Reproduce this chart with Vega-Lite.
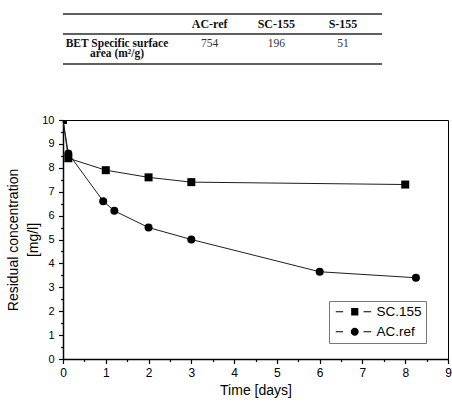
{
  "$schema": "https://vega.github.io/schema/vega-lite/v6.json",
  "padding": {"left": 6, "top": 13, "right": 2, "bottom": 2},
  "background": "white",
  "config": {"font": "Liberation Sans", "view": {"stroke": null}},
  "spacing": 48,
  "datasets": {
    "tableRules": [{"slot": "top"}, {"slot": "mid"}, {"slot": "bottom"}],
    "tableHeader": [
      {"slot": "header", "column": "AC-ref"},
      {"slot": "header", "column": "SC-155"},
      {"slot": "header", "column": "S-155"}
    ],
    "tableLabel": [
      {"slot": "line1", "column": "label", "text": "BET Specific surface"},
      {"slot": "line2", "column": "label", "text": "area (m²/g)"}
    ],
    "tableValues": [
      {"slot": "line1", "column": "AC-ref", "value": 754},
      {"slot": "line1", "column": "SC-155", "value": 196},
      {"slot": "line1", "column": "S-155", "value": 51}
    ],
    "kinetics": [
      {"series": "SC.155", "time": 0, "conc": 10},
      {"series": "SC.155", "time": 0.125, "conc": 8.4},
      {"series": "SC.155", "time": 1, "conc": 7.9},
      {"series": "SC.155", "time": 2, "conc": 7.6},
      {"series": "SC.155", "time": 3, "conc": 7.4},
      {"series": "SC.155", "time": 8, "conc": 7.3},
      {"series": "AC.ref", "time": 0, "conc": 10},
      {"series": "AC.ref", "time": 0.125, "conc": 8.6},
      {"series": "AC.ref", "time": 0.94, "conc": 6.6},
      {"series": "AC.ref", "time": 1.2, "conc": 6.2},
      {"series": "AC.ref", "time": 2, "conc": 5.5},
      {"series": "AC.ref", "time": 3, "conc": 5.0},
      {"series": "AC.ref", "time": 6, "conc": 3.65},
      {"series": "AC.ref", "time": 8.25, "conc": 3.4}
    ]
  },
  "vconcat": [
    {
      "width": 319,
      "height": 50,
      "encoding": {
        "y": {
          "field": "slot",
          "type": "nominal",
          "scale": {"type": "point", "domain": ["top", "header", "mid", "line1", "line2", "bottom"], "padding": 0},
          "axis": null
        }
      },
      "layer": [
        {
          "data": {"name": "tableRules"},
          "mark": {"type": "rule", "color": "#2b2b2b", "strokeWidth": 1.6}
        },
        {
          "data": {"name": "tableHeader"},
          "mark": {"type": "text", "font": "Liberation Serif", "fontSize": 12, "fontWeight": "bold", "color": "#111111", "baseline": "middle"},
          "encoding": {
            "x": {"field": "column", "type": "nominal", "scale": {"type": "point", "domain": ["label", "AC-ref", "SC-155", "S-155"], "range": [80, 280], "padding": 0}, "axis": null},
            "text": {"field": "column", "type": "nominal"}
          }
        },
        {
          "data": {"name": "tableLabel"},
          "mark": {"type": "text", "font": "Liberation Serif", "fontSize": 11.5, "fontWeight": "bold", "color": "#111111", "baseline": "middle", "dx": -26},
          "encoding": {
            "x": {"field": "column", "type": "nominal", "axis": null},
            "text": {"field": "text", "type": "nominal"}
          }
        },
        {
          "data": {"name": "tableValues"},
          "mark": {"type": "text", "font": "Liberation Serif", "fontSize": 11.5, "color": "#333333", "baseline": "middle"},
          "encoding": {
            "x": {"field": "column", "type": "nominal", "axis": null},
            "text": {"field": "value", "type": "quantitative"}
          }
        }
      ]
    },
    {
      "width": 385,
      "height": 239,
      "view": {"stroke": "black", "strokeWidth": 1},
      "data": {"name": "kinetics"},
      "encoding": {
        "x": {
          "field": "time",
          "type": "quantitative",
          "scale": {"domain": [0, 9], "nice": false, "zero": false},
          "axis": {
            "title": "Time [days]",
            "values": [0, 0.5, 1, 1.5, 2, 2.5, 3, 3.5, 4, 4.5, 5, 5.5, 6, 6.5, 7, 7.5, 8, 8.5, 9],
            "labelExpr": "datum.value % 1 === 0 ? format(datum.value, 'd') : ''",
            "tickSize": {"condition": {"test": "datum.value % 1 !== 0", "value": 2.5}, "value": 4.5},
            "grid": false,
            "labelOverlap": false,
            "labelFlush": false,
            "labelBound": false,
            "domainColor": "black",
            "domainWidth": 1.5,
            "tickColor": "black",
            "tickWidth": 1.2,
            "labelColor": "black",
            "labelFontSize": 12,
            "labelPadding": 4,
            "titleColor": "black",
            "titleFontSize": 14,
            "titleFontWeight": "normal",
            "titlePadding": 5
          }
        },
        "y": {
          "field": "conc",
          "type": "quantitative",
          "scale": {"domain": [0, 10], "nice": false},
          "axis": {
            "title": ["Residual concentration", "[mg/l]"],
            "values": [0, 0.5, 1, 1.5, 2, 2.5, 3, 3.5, 4, 4.5, 5, 5.5, 6, 6.5, 7, 7.5, 8, 8.5, 9, 9.5, 10],
            "labelExpr": "datum.value % 1 === 0 ? format(datum.value, 'd') : ''",
            "tickSize": {"condition": {"test": "datum.value % 1 !== 0", "value": 2.5}, "value": 4.5},
            "grid": false,
            "labelOverlap": false,
            "labelFlush": false,
            "labelBound": false,
            "domainColor": "black",
            "domainWidth": 1.5,
            "tickColor": "black",
            "tickWidth": 1.2,
            "labelColor": "black",
            "labelFontSize": 11,
            "labelPadding": 4.5,
            "titleColor": "black",
            "titleFontSize": 14,
            "titleFontWeight": "normal",
            "titleLineHeight": 20,
            "titlePadding": 1
          }
        }
      },
      "layer": [
        {
          "mark": {"type": "line", "color": "#1e1e1e", "strokeWidth": 1},
          "encoding": {"detail": {"field": "series", "type": "nominal"}}
        },
        {
          "mark": {"type": "point", "filled": true, "color": "black", "opacity": 1, "size": 64, "clip": true},
          "encoding": {
            "shape": {
              "field": "series",
              "type": "nominal",
              "scale": {"domain": ["SC.155", "AC.ref"], "range": ["square", "circle"]},
              "legend": null
            }
          }
        },
        {
          "mark": {"type": "point", "filled": true, "color": "black", "opacity": 0, "size": 64},
          "encoding": {
            "shape": {
              "field": "series",
              "type": "nominal",
              "scale": {
                "domain": ["SC.155", "AC.ref"],
                "range": [
                  "M-1,-0.13H0.85V0.13H-1Z M2.85,-0.92H4.65V0.92H2.85Z M5.95,-0.13H7.85V0.13H5.95Z",
                  "M-1,-0.13H0.85V0.13H-1Z M2.75,0A1,1,0,1,1,4.75,0A1,1,0,1,1,2.75,0Z M5.95,-0.13H7.85V0.13H5.95Z"
                ]
              },
              "legend": {
                "title": null,
                "orient": "none",
                "legendX": 266,
                "legendY": 181,
                "direction": "vertical",
                "padding": 4,
                "rowPadding": 5,
                "strokeColor": "#777777",
                "fillColor": "white",
                "labelFont": "Liberation Sans",
                "labelFontSize": 13.5,
                "labelColor": "black",
                "labelOffset": 30,
                "symbolSize": 64,
                "symbolOpacity": 1,
                "symbolFillColor": "#111111",
                "symbolStrokeWidth": 0
              }
            }
          }
        }
      ],
      "resolve": {"scale": {"shape": "independent"}}
    }
  ]
}
